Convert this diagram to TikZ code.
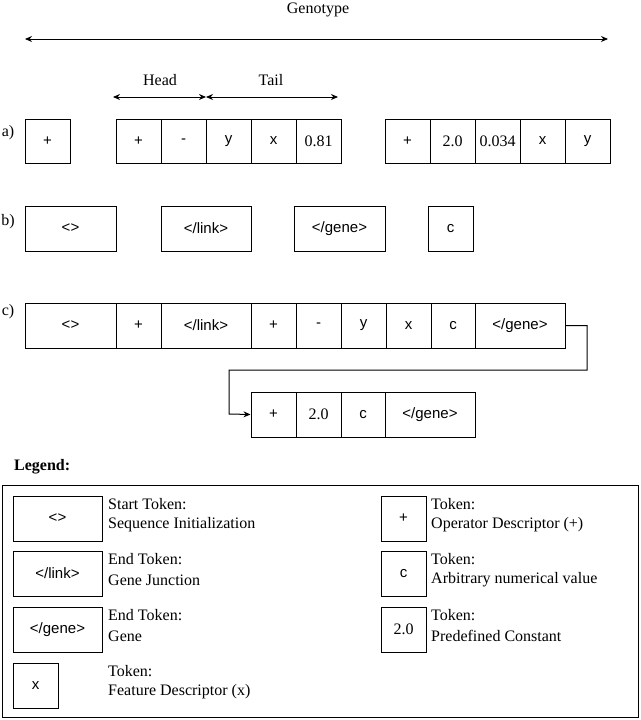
\documentclass[tikz,border=0pt]{standalone}
\usepackage{fontspec}
\setmainfont{Liberation Serif}
\newfontfamily\tokfont{Liberation Sans}
\usetikzlibrary{arrows.meta}
\begin{document}
\begin{tikzpicture}[x=1pt,y=-1pt,
  tok/.style={draw,line width=1pt,font=\tokfont\fontsize{15}{18}\selectfont,inner sep=0pt},
  txt/.style={font=\fontsize{16}{19}\selectfont,inner sep=0pt},
  arr/.style={line width=1pt,{Stealth[length=7pt,width=6pt]}-{Stealth[length=7pt,width=6pt]}}]
\useasboundingbox (0,0) rectangle (640,720);
\newcommand{\bx}[6]{\node[tok,minimum width=#3-#2,minimum height=#5-#4,#6] (#1) at ({(#2+#3)/2},{(#4+#5)/2}) {};}
\def\B#1#2#3#4#5#6{\node[tok,minimum width={#3-#2},minimum height={#5-#4}] (#1) at ({(#2+#3)/2},{(#4+#5)/2}) {#6};}
\def\S#1#2#3#4#5#6{\node[tok,font=\fontsize{16}{19}\selectfont,minimum width={#3-#2},minimum height={#5-#4}] (#1) at ({(#2+#3)/2},{(#4+#5)/2}) {#6};}
% top
\node[txt] (geno) at (318,10) {Genotype};
\coordinate (g1) at (25,39); \coordinate (g2) at (608,39);
\draw[arr] (g1) -- (g2);
\node[txt] (head) at (160,80) {Head};
\node[txt] (tail) at (271,80) {Tail};
\coordinate (h1) at (113,97); \coordinate (h2) at (206,97); \coordinate (t2) at (338,97);
\draw[arr] (h1) -- (h2); \draw[arr] (h2) -- (t2);
% row a
\node[txt] (la) at (8,133) {a)};
\B{a1}{25}{70}{119}{163}{+}
\B{a2}{116}{161}{119}{163}{+}
\B{a3}{161}{206}{119}{163}{-}
\B{a4}{206}{251}{119}{163}{y}
\B{a5}{251}{296}{119}{163}{x}
\S{a6}{296}{341}{119}{163}{0.81}
\B{a7}{385}{430}{119}{163}{+}
\S{a8}{430}{475}{119}{163}{2.0}
\S{a9}{475}{520}{119}{163}{0.034}
\B{a10}{520}{565}{119}{163}{x}
\B{a11}{565}{610}{119}{163}{y}
% row b
\node[txt] (lb) at (8,222) {b)};
\B{b1}{25}{116}{206}{251}{<>}
\B{b2}{161}{251}{206}{251}{</link>}
\B{b3}{294}{385}{206}{251}{</gene>}
\B{b4}{428}{473}{206}{251}{c}
% row c
\node[txt] (lc) at (8,312) {c)};
\B{c1}{25}{116}{303}{348}{<>}
\B{c2}{116}{161}{303}{348}{+}
\B{c3}{161}{251}{303}{348}{</link>}
\B{c4}{251}{296}{303}{348}{+}
\B{c5}{296}{341}{303}{348}{-}
\B{c6}{341}{386}{303}{348}{y}
\B{c7}{386}{431}{303}{348}{x}
\B{c8}{431}{475}{303}{348}{c}
\B{c9}{475}{565}{303}{348}{</gene>}
\B{d1}{251}{296}{392}{437}{+}
\S{d2}{296}{341}{392}{437}{2.0}
\B{d3}{341}{385}{392}{437}{c}
\B{d4}{385}{475}{392}{437}{</gene>}
\draw[line width=1pt,-{Stealth[length=7pt,width=6pt]}] (c9.east) -| (587,370) -| (229,414) -- (d1.west);
% legend
\node[txt,font=\bfseries\fontsize{16}{19}\selectfont,anchor=west] (leg) at (14,467) {Legend:};
\node[draw,line width=1pt,minimum width=636,minimum height=232,inner sep=0pt] (frame) at (320,601) {};
\B{l1}{13}{102}{496}{541}{<>}
\B{l2}{13}{102}{551}{596}{</link>}
\B{l3}{13}{102}{607}{652}{</gene>}
\B{l4}{13}{58}{663}{708}{x}
\B{r1}{381}{426}{496}{541}{+}
\B{r2}{381}{426}{551}{596}{c}
\S{r3}{381}{426}{607}{652}{2.0}
\tikzset{lt/.style={txt,anchor=west}}
\node[lt] (t1a) at (108,504) {Start Token:}; \node[lt] (t1b) at (108,525) {Sequence Initialization};
\node[lt] (t2a) at (108,559) {End Token:}; \node[lt] (t2b) at (108,580) {Gene Junction};
\node[lt] (t3a) at (108,615) {End Token:}; \node[lt] (t3b) at (108,636) {Gene};
\node[lt] (t4a) at (108,671) {Token:}; \node[lt] (t4b) at (108,692) {Feature Descriptor (x)};
\node[lt] (u1a) at (431,504) {Token:}; \node[lt] (u1b) at (431,525) {Operator Descriptor (+)};
\node[lt] (u2a) at (431,559) {Token:}; \node[lt] (u2b) at (431,580) {Arbitrary numerical value};
\node[lt] (u3a) at (431,615) {Token:}; \node[lt] (u3b) at (431,636) {Predefined Constant};
\end{tikzpicture}
\end{document}
